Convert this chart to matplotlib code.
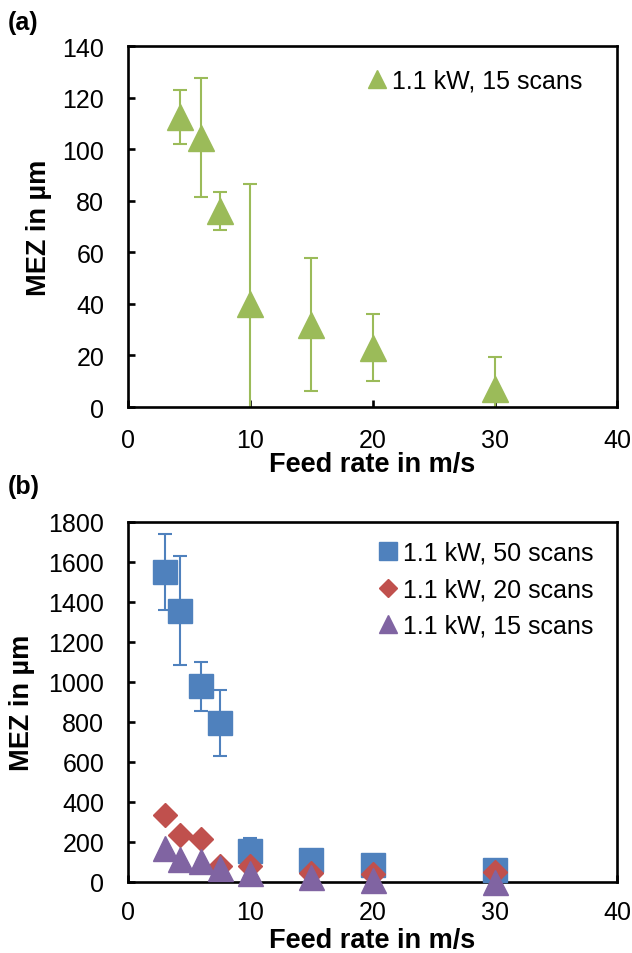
import numpy as np
import matplotlib
matplotlib.use("Agg")
import matplotlib.pyplot as plt

plt.rcParams['font.family'] = ['Liberation Sans', 'DejaVu Sans']

# (a) 1.1 kW, 15 scans
feed_a = [4.25, 6, 7.5, 10, 15, 20, 30]
mez_a = [112.5, 104.5, 76, 40, 32, 23, 7]
err_a = [10.5, 23, 7.5, 46.5, 25.7, 13, 12.5]

# (b)
feed_b = [3, 4.25, 6, 7.5, 10, 15, 20, 30]
mez_50 = [1550, 1355, 978, 797, 157, 108, 84, 58]
err_50 = [190, 272, 121, 165, 65, 0, 0, 0]
mez_20 = [333, 236, 215, 80, 80, 44, 38, 50]
mez_15 = [170, 113, 105, 72, 43, 26, 10, 0]

green = '#9BBB59'
blue = '#4F81BD'
red = '#C0504D'
purple = '#8064A2'

fig = plt.figure(figsize=(6.32, 9.54), dpi=100)
ax1 = fig.add_axes([0.2025, 0.5723, 0.774, 0.3784])
ax2 = fig.add_axes([0.2025, 0.0745, 0.774, 0.3774])


def style_axes(ax, ymax, ystep, ylab_x, xlab_y, xpad):
    ax.set_xlim(0, 40)
    ax.set_ylim(0, ymax)
    ax.set_xticks(np.arange(0, 41, 10))
    ax.set_yticks(np.arange(0, ymax + 1, ystep))
    for s in ax.spines.values():
        s.set_linewidth(1.9)
    ax.tick_params(direction='in', length=5, width=1.9, labelsize=18)
    ax.tick_params(axis='x', pad=xpad)
    ax.tick_params(axis='y', pad=17)
    ax.set_xlabel("Feed rate in m/s", fontsize=19.5, fontweight='bold', va='center')
    ax.set_ylabel("MEZ in µm", fontsize=19.5, fontweight='bold', va='center')
    ax.xaxis.set_label_coords(0.5, xlab_y)
    ax.yaxis.set_label_coords(ylab_x, 0.5)


# 패널 (a)
ax1.errorbar(feed_a, mez_a, yerr=err_a, fmt='none', ecolor=green,
             elinewidth=1.5, capsize=4.7, capthick=1.5)
ax1.plot(feed_a, mez_a, linestyle='none', marker='^', ms=18.5, color=green,
         label='1.1 kW, 15 scans', clip_on=False, zorder=3)
style_axes(ax1, 140, 20, -0.182, -0.157, 15)
ax1.legend(loc='upper right', bbox_to_anchor=(0.975, 1.0), frameon=False,
           fontsize=18, handlelength=0.8, handletextpad=0.2, markerscale=0.7,
           borderpad=0.4)

# 패널 (b)
ax2.errorbar(feed_b, mez_50, yerr=err_50, fmt='none', ecolor=blue,
             elinewidth=1.5, capsize=4.7, capthick=1.5)
ax2.plot(feed_b, mez_50, linestyle='none', marker='s', ms=17.3, color=blue,
         label='1.1 kW, 50 scans', clip_on=False, zorder=3)
ax2.plot(feed_b, mez_20, linestyle='none', marker='D', ms=12.7, color=red,
         label='1.1 kW, 20 scans', clip_on=False, zorder=4)
ax2.plot(feed_b, mez_15, linestyle='none', marker='^', ms=18, color=purple,
         label='1.1 kW, 15 scans', clip_on=False, zorder=5)
style_axes(ax2, 1800, 200, -0.217, -0.16, 13)
ax2.legend(loc='upper right', bbox_to_anchor=(0.997, 1.01), frameon=False,
           fontsize=18, handlelength=0.8, handletextpad=0.2, markerscale=0.75,
           borderpad=0.4, labelspacing=0.5)

fig.text(0.013, 0.976, "(a)", fontsize=18, fontweight='bold', va='center')
fig.text(0.013, 0.4895, "(b)", fontsize=18, fontweight='bold', va='center')

fig.savefig("out.png", dpi=100)
